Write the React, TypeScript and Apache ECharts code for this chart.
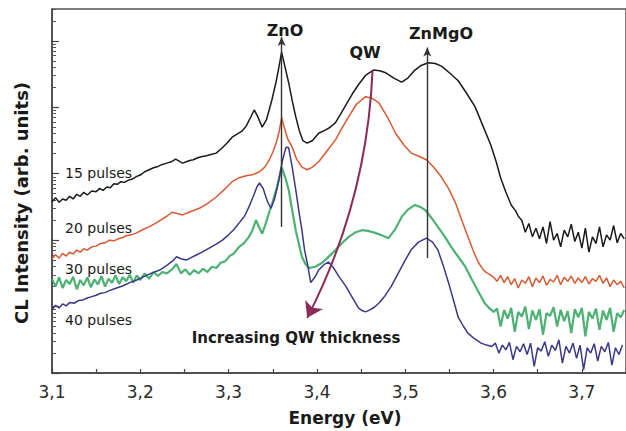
import React, { useEffect, useRef } from "react";
import * as echarts from "echarts";

// Energy (eV) vs CL intensity (decades, log10 of arb. units)
const pulses15: [number, number][] = [
  [3.100, 2.58], [3.104, 2.64], [3.108, 2.57], [3.112, 2.62], [3.116, 2.60], [3.120, 2.66], [3.124, 2.62],
  [3.128, 2.69], [3.132, 2.66], [3.136, 2.72], [3.140, 2.68], [3.145, 2.74], [3.150, 2.73], [3.154, 2.78],
  [3.158, 2.75], [3.162, 2.80], [3.166, 2.79], [3.170, 2.85], [3.174, 2.84], [3.178, 2.88], [3.182, 2.87],
  [3.186, 2.90], [3.191, 2.92], [3.196, 2.96], [3.200, 2.98], [3.205, 3.03], [3.210, 3.06], [3.215, 3.09],
  [3.220, 3.11], [3.225, 3.14], [3.230, 3.16], [3.235, 3.18], [3.240, 3.22], [3.244, 3.19], [3.248, 3.16],
  [3.252, 3.18], [3.256, 3.20], [3.260, 3.21], [3.265, 3.24], [3.270, 3.26], [3.275, 3.27], [3.280, 3.29],
  [3.286, 3.31], [3.292, 3.38], [3.298, 3.46], [3.304, 3.55], [3.310, 3.60], [3.315, 3.64], [3.320, 3.72],
  [3.325, 3.85], [3.329, 3.96], [3.333, 3.86], [3.338, 3.70], [3.343, 3.82], [3.349, 4.11], [3.354, 4.40],
  [3.357, 4.61], [3.360, 4.83], [3.364, 4.60], [3.368, 4.37], [3.372, 4.10], [3.376, 3.86], [3.380, 3.65],
  [3.384, 3.50], [3.389, 3.46], [3.395, 3.50], [3.402, 3.61], [3.410, 3.66], [3.415, 3.70], [3.421, 3.77],
  [3.427, 3.90], [3.433, 4.04], [3.440, 4.20], [3.447, 4.34], [3.455, 4.48], [3.464, 4.56], [3.471, 4.55],
  [3.478, 4.52], [3.487, 4.44], [3.496, 4.38], [3.503, 4.44], [3.511, 4.56], [3.518, 4.63], [3.526, 4.67],
  [3.534, 4.66], [3.541, 4.62], [3.550, 4.52], [3.560, 4.40], [3.570, 4.20], [3.579, 4.01], [3.588, 3.72],
  [3.597, 3.43], [3.603, 3.18], [3.608, 2.94], [3.614, 2.72], [3.620, 2.53], [3.625, 2.44], [3.628, 2.36],
  [3.632, 2.30], [3.636, 2.12], [3.640, 2.25], [3.644, 2.05], [3.648, 2.18], [3.652, 2.02], [3.656, 2.20],
  [3.660, 1.95], [3.664, 2.28], [3.668, 2.00], [3.672, 2.10], [3.676, 1.90], [3.680, 2.15], [3.684, 2.05],
  [3.688, 2.24], [3.692, 1.98], [3.696, 2.12], [3.700, 1.88], [3.704, 2.18], [3.708, 1.82], [3.712, 2.05],
  [3.716, 1.95], [3.720, 2.20], [3.724, 1.90], [3.728, 2.08], [3.732, 2.00], [3.736, 2.22], [3.740, 1.96],
  [3.744, 2.10], [3.748, 2.02],
];

const pulses20: [number, number][] = [
  [3.100, 1.72], [3.104, 1.78], [3.108, 1.73], [3.112, 1.80], [3.116, 1.76], [3.120, 1.82], [3.124, 1.79],
  [3.128, 1.85], [3.132, 1.82], [3.136, 1.87], [3.140, 1.85], [3.145, 1.90], [3.150, 1.91], [3.155, 1.95],
  [3.160, 1.96], [3.165, 2.00], [3.170, 1.99], [3.175, 2.02], [3.180, 2.04], [3.185, 2.07], [3.190, 2.08],
  [3.196, 2.11], [3.203, 2.16], [3.210, 2.20], [3.218, 2.26], [3.224, 2.31], [3.230, 2.36], [3.236, 2.42],
  [3.242, 2.40], [3.248, 2.38], [3.255, 2.42], [3.261, 2.45], [3.267, 2.48], [3.276, 2.55], [3.286, 2.65],
  [3.295, 2.76], [3.304, 2.88], [3.312, 2.94], [3.320, 2.97], [3.328, 2.99], [3.335, 3.03], [3.341, 3.10],
  [3.346, 3.21], [3.350, 3.32], [3.354, 3.47], [3.357, 3.62], [3.360, 3.84], [3.363, 3.70], [3.367, 3.52],
  [3.372, 3.40], [3.377, 3.22], [3.383, 3.10], [3.389, 3.06], [3.395, 3.10], [3.402, 3.18], [3.410, 3.32],
  [3.421, 3.51], [3.428, 3.68], [3.436, 3.86], [3.445, 4.05], [3.455, 4.16], [3.462, 4.14], [3.470, 4.07],
  [3.480, 3.85], [3.489, 3.61], [3.498, 3.44], [3.507, 3.31], [3.516, 3.26], [3.524, 3.21], [3.532, 3.10],
  [3.541, 2.95], [3.549, 2.78], [3.557, 2.56], [3.564, 2.30], [3.571, 2.05], [3.577, 1.84], [3.583, 1.66],
  [3.588, 1.56], [3.592, 1.51], [3.596, 1.48], [3.600, 1.44], [3.604, 1.38], [3.608, 1.47], [3.612, 1.36],
  [3.616, 1.45], [3.620, 1.33], [3.624, 1.42], [3.628, 1.28], [3.632, 1.40], [3.636, 1.35], [3.640, 1.45],
  [3.644, 1.30], [3.648, 1.43], [3.652, 1.36], [3.656, 1.46], [3.660, 1.32], [3.664, 1.41], [3.668, 1.37],
  [3.672, 1.47], [3.676, 1.33], [3.680, 1.44], [3.684, 1.38], [3.688, 1.46], [3.692, 1.35], [3.696, 1.43],
  [3.700, 1.36], [3.704, 1.45], [3.708, 1.34], [3.712, 1.42], [3.716, 1.38], [3.720, 1.47], [3.724, 1.35],
  [3.728, 1.43], [3.732, 1.30], [3.736, 1.40], [3.740, 1.33], [3.744, 1.38], [3.748, 1.28],
];

const pulses30: [number, number][] = [
  [3.100, 1.42], [3.104, 1.30], [3.108, 1.44], [3.112, 1.28], [3.116, 1.40], [3.120, 1.34], [3.124, 1.45],
  [3.128, 1.26], [3.132, 1.40], [3.136, 1.32], [3.140, 1.44], [3.144, 1.29], [3.148, 1.41], [3.152, 1.33],
  [3.156, 1.46], [3.160, 1.30], [3.164, 1.42], [3.168, 1.36], [3.172, 1.47], [3.176, 1.34], [3.180, 1.44],
  [3.184, 1.38], [3.188, 1.48], [3.192, 1.36], [3.196, 1.47], [3.200, 1.40], [3.205, 1.50], [3.210, 1.42],
  [3.215, 1.52], [3.220, 1.46], [3.225, 1.52], [3.230, 1.50], [3.236, 1.56], [3.241, 1.64], [3.246, 1.50],
  [3.251, 1.56], [3.256, 1.48], [3.261, 1.55], [3.266, 1.50], [3.271, 1.57], [3.276, 1.52], [3.281, 1.60],
  [3.286, 1.58], [3.291, 1.66], [3.296, 1.68], [3.301, 1.76], [3.306, 1.80], [3.312, 1.90], [3.317, 1.95],
  [3.323, 2.05], [3.327, 2.15], [3.331, 2.30], [3.335, 2.18], [3.338, 2.10], [3.342, 2.25], [3.346, 2.42],
  [3.350, 2.58], [3.354, 2.76], [3.357, 2.92], [3.360, 3.10], [3.364, 2.95], [3.368, 2.76], [3.372, 2.45],
  [3.376, 2.15], [3.380, 1.92], [3.383, 1.75], [3.387, 1.64], [3.391, 1.58], [3.398, 1.60], [3.406, 1.66],
  [3.414, 1.76], [3.421, 1.85], [3.428, 1.95], [3.436, 2.05], [3.444, 2.12], [3.451, 2.15], [3.458, 2.14],
  [3.466, 2.11], [3.474, 2.07], [3.481, 2.03], [3.488, 2.15], [3.496, 2.35], [3.503, 2.46], [3.511, 2.53],
  [3.517, 2.50], [3.523, 2.45], [3.530, 2.33], [3.537, 2.20], [3.545, 2.05], [3.552, 1.90], [3.560, 1.75],
  [3.568, 1.60], [3.575, 1.42], [3.583, 1.22], [3.590, 1.05], [3.595, 0.98], [3.600, 0.92], [3.604, 0.97],
  [3.608, 0.70], [3.612, 0.95], [3.616, 0.82], [3.620, 0.98], [3.624, 0.62], [3.628, 0.92], [3.632, 0.85],
  [3.636, 1.00], [3.640, 0.66], [3.644, 0.94], [3.648, 0.80], [3.652, 0.96], [3.656, 0.58], [3.660, 0.90],
  [3.664, 0.86], [3.668, 0.99], [3.672, 0.70], [3.676, 0.95], [3.680, 0.78], [3.684, 0.93], [3.688, 0.60],
  [3.692, 0.96], [3.696, 0.84], [3.700, 0.98], [3.704, 0.55], [3.708, 0.92], [3.712, 0.82], [3.716, 0.97],
  [3.720, 0.65], [3.724, 0.94], [3.728, 0.80], [3.732, 0.98], [3.736, 0.62], [3.740, 0.90], [3.744, 0.84],
  [3.748, 0.95],
];

const pulses40: [number, number][] = [
  [3.100, 0.95], [3.104, 1.02], [3.108, 0.98], [3.112, 1.04], [3.116, 1.01], [3.120, 1.06], [3.125, 1.05],
  [3.130, 1.09], [3.135, 1.10], [3.140, 1.13], [3.145, 1.15], [3.150, 1.17], [3.155, 1.20], [3.160, 1.21],
  [3.165, 1.24], [3.173, 1.28], [3.180, 1.31], [3.188, 1.36], [3.196, 1.40], [3.204, 1.45], [3.212, 1.50],
  [3.222, 1.55], [3.230, 1.62], [3.236, 1.68], [3.241, 1.75], [3.246, 1.72], [3.252, 1.70], [3.258, 1.74],
  [3.264, 1.78], [3.270, 1.82], [3.278, 1.88], [3.286, 1.94], [3.293, 2.00], [3.300, 2.08], [3.306, 2.16],
  [3.312, 2.26], [3.318, 2.36], [3.323, 2.50], [3.328, 2.66], [3.332, 2.80], [3.335, 2.86], [3.339, 2.78],
  [3.344, 2.58], [3.348, 2.48], [3.352, 2.62], [3.357, 2.91], [3.361, 3.20], [3.365, 3.40], [3.368, 3.39],
  [3.372, 3.10], [3.376, 2.76], [3.380, 2.40], [3.383, 2.15], [3.386, 1.85], [3.389, 1.66], [3.393, 1.36],
  [3.398, 1.45], [3.402, 1.55], [3.408, 1.63], [3.413, 1.67], [3.419, 1.58], [3.425, 1.45], [3.433, 1.30],
  [3.440, 1.14], [3.447, 0.98], [3.451, 0.94], [3.455, 0.92], [3.460, 0.95], [3.465, 0.99], [3.470, 1.05],
  [3.477, 1.16], [3.484, 1.30], [3.492, 1.50], [3.500, 1.70], [3.507, 1.86], [3.515, 1.97], [3.524, 2.03],
  [3.531, 1.97], [3.537, 1.85], [3.543, 1.62], [3.549, 1.36], [3.555, 1.08], [3.560, 0.84], [3.566, 0.70],
  [3.571, 0.60], [3.578, 0.52], [3.586, 0.45], [3.592, 0.42], [3.598, 0.40], [3.602, 0.45], [3.606, 0.30],
  [3.610, 0.42], [3.614, 0.35], [3.618, 0.46], [3.622, 0.20], [3.626, 0.40], [3.630, 0.32], [3.634, 0.44],
  [3.638, 0.28], [3.642, 0.45], [3.646, 0.10], [3.650, 0.38], [3.654, 0.33], [3.658, 0.47], [3.662, 0.25],
  [3.666, 0.42], [3.670, 0.34], [3.674, 0.50], [3.678, 0.15], [3.682, 0.40], [3.686, 0.30], [3.690, 0.45],
  [3.694, 0.22], [3.698, 0.42], [3.702, 0.05], [3.706, 0.38], [3.710, 0.30], [3.714, 0.44], [3.718, 0.18],
  [3.722, 0.40], [3.726, 0.32], [3.730, 0.46], [3.734, 0.12], [3.738, 0.38], [3.742, 0.28], [3.746, 0.42],
];

const seriesNames = ["15 pulses", "20 pulses", "30 pulses", "40 pulses"];
const seriesColors = ["#1b1b1b", "#d65a32", "#3aa864", "#3b3886"];
const xTickLabels = [3.1, 3.2, 3.3, 3.4, 3.5, 3.6, 3.7];
const yDecades = [0, 1, 2, 3, 4, 5];
const yMaxDecade = 5.48;

// Annotation arrows (data coordinates: energy, decade)
const znoArrow: [[number, number], [number, number]] = [[3.36, 2.2], [3.36, 5.06]];
const znmgoArrow: [[number, number], [number, number]] = [[3.525, 1.73], [3.525, 4.9]];
const qwArrow: [[number, number], [number, number]] = [[3.463, 4.56], [3.389, 0.83]];

const FONT = "'DejaVu Sans', 'Liberation Sans', Arial, sans-serif";

export default function App() {
  const ref = useRef<HTMLDivElement>(null);

  useEffect(() => {
    if (!ref.current) return;
    const chart = echarts.init(ref.current, null, { renderer: "svg" });

    const yMinor: number[] = [];
    yDecades.forEach((d) => {
      for (let k = 2; k <= 9; k++) {
        const v = d + Math.log10(k);
        if (v < yMaxDecade) yMinor.push(v);
      }
    });

    const datasets = [pulses15, pulses20, pulses30, pulses40];

    const text = (
      t: string,
      x: number,
      y: number,
      size: number,
      weight: string,
      align: string,
      rotation = 0
    ) => ({
      type: "text",
      x,
      y,
      rotation,
      silent: true,
      style: {
        text: t,
        font: `${weight} ${size}px ${FONT}`,
        fill: "#1a1a1a",
        align,
        verticalAlign: "middle",
        textAlign: align,
        textVerticalAlign: "middle",
      },
    });

    const option: any = {
      animation: false,
      backgroundColor: "#ffffff",
      grid: {
        left: 52,
        top: 9,
        width: 577,
        height: 364,
        show: true,
        borderColor: "#555",
        borderWidth: 1.5,
        backgroundColor: "transparent",
      },
      xAxis: {
        type: "value",
        min: 3.1,
        max: 3.75,
        interval: 0.05,
        axisLine: { show: true, lineStyle: { color: "#444", width: 1.5 } },
        axisTick: { show: true, inside: true, length: 4, lineStyle: { color: "#444", width: 1.2 } },
        axisLabel: {
          show: true,
          customValues: xTickLabels,
          formatter: (v: number) => v.toFixed(1).replace(".", ","),
          fontSize: 17,
          fontFamily: FONT,
          color: "#2a2a2a",
          margin: 10,
        },
        splitLine: { show: false },
      },
      yAxis: [
        {
          type: "value",
          min: 0,
          max: yMaxDecade,
          axisLine: { show: true, lineStyle: { color: "#444", width: 1.5 } },
          axisTick: {
            show: true,
            inside: true,
            length: 7,
            customValues: yDecades,
            lineStyle: { color: "#444", width: 1.2 },
          },
          axisLabel: { show: false },
          splitLine: { show: false },
        },
        {
          type: "value",
          min: 0,
          max: yMaxDecade,
          position: "left",
          offset: 0,
          axisLine: { show: false },
          axisTick: {
            show: true,
            inside: true,
            length: 4,
            customValues: yMinor,
            lineStyle: { color: "#555", width: 1 },
          },
          axisLabel: { show: false },
          splitLine: { show: false },
        },
      ],
      series: [
        ...datasets.map((d, i) => ({
          type: "line",
          name: seriesNames[i],
          data: d,
          showSymbol: false,
          symbol: "none",
          silent: true,
          z: i === 2 ? 2 : 3,
          lineStyle: {
            color: seriesColors[i],
            width: i === 2 ? 2.2 : 1.5,
            opacity: i === 2 ? 0.9 : 1,
          },
        })),
        {
          type: "line",
          name: "peak arrows",
          data: [],
          silent: true,
          z: 5,
          markLine: {
            silent: true,
            symbol: ["none", "arrow"],
            symbolSize: [6, 9],
            label: { show: false },
            emphasis: { disabled: true },
            lineStyle: { color: "#333", width: 1.4, type: "solid" },
            data: [
              [{ coord: znoArrow[0] }, { coord: znoArrow[1] }],
              [{ coord: znmgoArrow[0] }, { coord: znmgoArrow[1] }],
            ],
          },
        },
        {
          type: "lines",
          name: "QW arrow",
          coordinateSystem: "cartesian2d",
          xAxisIndex: 0,
          yAxisIndex: 0,
          silent: true,
          z: 5,
          symbol: ["none", "arrow"],
          symbolSize: [12, 15],
          lineStyle: { color: "#8a2b58", width: 2, type: "solid", curveness: 0.11, opacity: 1 },
          data: [{ coords: qwArrow }],
        },
      ],
      graphic: [
        text("ZnO", 285, 30, 16, "bold", "center"),
        text("QW", 365, 52, 16, "bold", "center"),
        text("ZnMgO", 441, 33, 16, "bold", "center"),
        text("Increasing QW thickness", 296, 338, 15, "bold", "center"),
        text(seriesNames[0], 65, 173, 14, "normal", "left"),
        text(seriesNames[1], 65, 228, 14, "normal", "left"),
        text(seriesNames[2], 65, 269, 14, "normal", "left"),
        text(seriesNames[3], 65, 320, 14, "normal", "left"),
        text("Energy (eV)", 345, 418, 17, "bold", "center"),
        text("CL Intensity (arb. units)", 21, 203, 18, "bold", "center", Math.PI / 2),
      ],
    };

    chart.setOption(option);
    return () => chart.dispose();
  }, []);

  return (
    <div
      ref={ref}
      style={{ position: "fixed", left: 0, top: 0, width: 626, height: 431, background: "#fff" }}
    />
  );
}
